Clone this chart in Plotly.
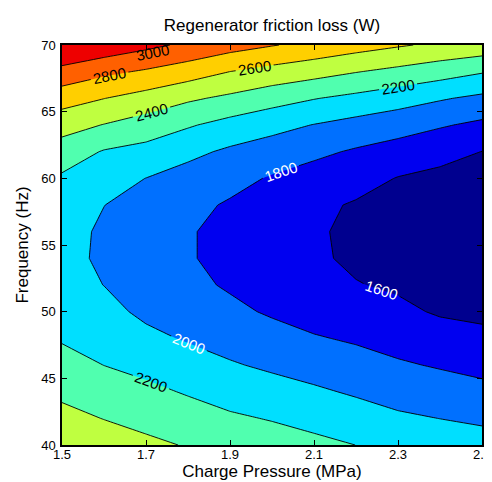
import plotly.graph_objects as go

# Charge pressure (MPa) grid columns and frequency (Hz) grid rows
pressure = [1.5, 1.6, 1.7, 1.8, 1.9, 2.0, 2.1, 2.2, 2.3, 2.4, 2.5]
frequency = [40, 42, 44, 46, 48, 50, 52, 54, 56, 58, 60, 62, 64, 66, 68, 70]

# Regenerator friction loss (W), one row per frequency
loss_f40 = [2550, 2499, 2442, 2387, 2340, 2293, 2248, 2199, 2145, 2109, 2080]
loss_f42 = [2455, 2395, 2340, 2285, 2228, 2188, 2139, 2087, 2030, 1998, 1968]
loss_f44 = [2362, 2296, 2244, 2183, 2121, 2075, 2028, 1977, 1926, 1890, 1852]
loss_f46 = [2272, 2198, 2145, 2083, 2017, 1968, 1921, 1873, 1822, 1783, 1745]
loss_f48 = [2182, 2131, 2045, 1982, 1929, 1870, 1815, 1777, 1729, 1681, 1645]
loss_f50 = [2109, 2055, 1962, 1898, 1840, 1778, 1724, 1696, 1639, 1580, 1560]
loss_f52 = [2065, 1998, 1911, 1842, 1780, 1716, 1661, 1608, 1575, 1520, 1480]
loss_f54 = [2050, 1973, 1891, 1814, 1750, 1686, 1626, 1570, 1525, 1475, 1435]
loss_f56 = [2064, 1973, 1899, 1814, 1750, 1686, 1619, 1568, 1515, 1470, 1430]
loss_f58 = [2104, 2002, 1935, 1851, 1779, 1718, 1640, 1582, 1545, 1495, 1460]
loss_f60 = [2172, 2075, 1998, 1925, 1862, 1782, 1721, 1672, 1592, 1555, 1510]
loss_f62 = [2306, 2186, 2138, 2048, 1968, 1908, 1841, 1778, 1722, 1659, 1598]
loss_f64 = [2477, 2393, 2310, 2220, 2133, 2062, 1994, 1934, 1881, 1819, 1760]
loss_f66 = [2685, 2603, 2524, 2430, 2360, 2279, 2208, 2150, 2086, 2018, 1958]
loss_f68 = [2936, 2843, 2776, 2698, 2599, 2533, 2475, 2408, 2350, 2287, 2215]
loss_f70 = [3220, 3137, 3050, 2962, 2880, 2811, 2745, 2680, 2620, 2565, 2528]

loss = [loss_f40, loss_f42, loss_f44, loss_f46, loss_f48, loss_f50, loss_f52, loss_f54,
        loss_f56, loss_f58, loss_f60, loss_f62, loss_f64, loss_f66, loss_f68, loss_f70]

x_ticks = [1.5, 1.7, 1.9, 2.1, 2.3, 2.5]
x_ticktext = ["1.5", "1.7", "1.9", "2.1", "2.3", "2.5"]
y_ticks = [40, 45, 50, 55, 60, 65, 70]

# level of the short top-left contour whose label plotly will not place itself
top_level = 3000
top_label_pos = (1.715, 69.45)

band_colors = ["#00008F", "#0000F0", "#0070FF", "#00DFFF", "#50FFAF",
               "#BFFF40", "#FFCF00", "#FF6000", "#EE0000"]
colorscale = [[k / (len(band_colors) - 1), c] for k, c in enumerate(band_colors)]

FONT = "Liberation Sans, Arial, Helvetica, sans-serif"

fig = go.Figure()

# filled bands
fig.add_trace(go.Contour(
    x=pressure, y=frequency, z=loss,
    autocontour=False,
    contours=dict(start=1600, end=3000, size=200, coloring="fill", showlines=False),
    colorscale=colorscale, showscale=False,
    line=dict(width=0, smoothing=0),
    hoverinfo="skip", showlegend=False,
))

# black-labelled lines
fig.add_trace(go.Contour(
    x=pressure, y=frequency, z=loss,
    autocontour=False,
    contours=dict(start=2200, end=3000, size=200, coloring="none", showlabels=True,
                  labelfont=dict(size=15, color="black", family=FONT), labelformat=".0f"),
    line=dict(color="black", width=0.9, smoothing=0),
    showscale=False, hoverinfo="skip", showlegend=False,
))

# white-labelled lines
fig.add_trace(go.Contour(
    x=pressure, y=frequency, z=loss,
    autocontour=False,
    contours=dict(start=1600, end=2000, size=200, coloring="none", showlabels=True,
                  labelfont=dict(size=15, color="white", family=FONT), labelformat=".0f"),
    line=dict(color="black", width=0.9, smoothing=0),
    showscale=False, hoverinfo="skip", showlegend=False,
))

fig.add_annotation(
    x=top_label_pos[0], y=top_label_pos[1], xref="x", yref="y",
    text=str(top_level), showarrow=False, textangle=-11,
    font=dict(size=15, color="black", family=FONT),
)

axis_common = dict(
    showgrid=False, zeroline=False, showline=True, linecolor="black", linewidth=1.5,
    mirror="ticks", ticks="inside", ticklen=5, tickcolor="black", tickwidth=1,
    tickfont=dict(size=13, color="black", family=FONT),
)

fig.update_layout(
    width=492, height=482,
    showlegend=False,
    margin=dict(l=54, r=9, t=37, b=45),
    paper_bgcolor="white", plot_bgcolor="white",
    font=dict(family=FONT, color="black"),
    title=dict(text="Regenerator friction loss (W)", x=0.5, xref="paper",
               y=1 - 17 / 482, yref="container", yanchor="middle", xanchor="center",
               font=dict(size=17, color="black", family=FONT)),
    xaxis=dict(range=[1.5, 2.5], tickvals=x_ticks, ticktext=x_ticktext,
               ticklabelstandoff=-3,
               title=dict(text="Charge Pressure (MPa)", font=dict(size=17), standoff=1),
               **axis_common),
    yaxis=dict(range=[40, 70], tickvals=y_ticks,
               ticklabelstandoff=2,
               title=dict(text="Frequency (Hz)", font=dict(size=17), standoff=8),
               **axis_common),
)

fig.write_html("out.html")
